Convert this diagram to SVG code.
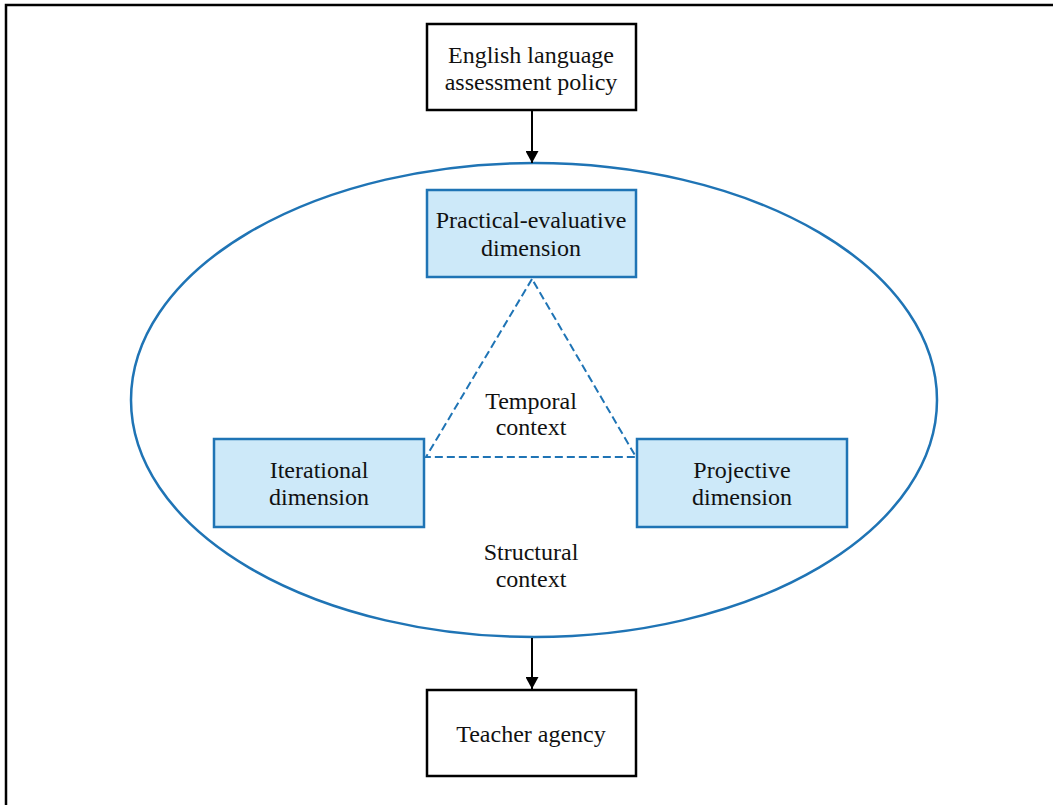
<svg xmlns="http://www.w3.org/2000/svg" width="1053" height="805" viewBox="0 0 1053 805">
<defs>
<marker id="arr" viewBox="0 0 10 10" refX="10" refY="5" markerWidth="12" markerHeight="13" markerUnits="userSpaceOnUse" orient="auto" preserveAspectRatio="none"><path d="M0,0 L10,5 L0,10 z" fill="#000"/></marker>
<style>
text{font-family:"Liberation Serif","Times New Roman",serif;font-size:24px;fill:#111;text-anchor:middle}
.plain{fill:#fff;stroke:#000;stroke-width:2.5}
.dim{fill:#cde9f9;stroke:#1f74b5;stroke-width:2.5}
.conn{stroke:#000;stroke-width:2;fill:none}
.dash{stroke:#1f74b5;stroke-width:2;fill:none;stroke-dasharray:8,4}
</style>
</defs>
<rect x="0" y="0" width="1053" height="805" fill="#fff"/>
<rect x="6" y="5" width="1060" height="820" fill="none" stroke="#000" stroke-width="2.5"/>
<g id="context">
<ellipse cx="534" cy="400" rx="403" ry="237" fill="none" stroke="#1f74b5" stroke-width="2.5"/>
<text x="531" y="409">Temporal</text>
<text x="531" y="435">context</text>
<text x="531" y="560">Structural</text>
<text x="531" y="587">context</text>
</g>
<g id="connectors">
<line class="conn" x1="532" y1="111" x2="532" y2="163" marker-end="url(#arr)"/>
<line class="conn" x1="532" y1="638" x2="532" y2="689" marker-end="url(#arr)"/>
<path class="dash" d="M532,279 L426,457 L636,457 Z"/>
</g>
<g id="policy">
<rect class="plain" x="427" y="24" width="209" height="86"/>
<text x="531" y="63">English language</text>
<text x="531" y="90">assessment policy</text>
</g>
<g id="practical">
<rect class="dim" x="427" y="190" width="209" height="87"/>
<text x="531" y="228">Practical-evaluative</text>
<text x="531" y="256">dimension</text>
</g>
<g id="iterational">
<rect class="dim" x="214" y="439" width="210" height="88"/>
<text x="319" y="478">Iterational</text>
<text x="319" y="505">dimension</text>
</g>
<g id="projective">
<rect class="dim" x="637" y="439" width="210" height="88"/>
<text x="742" y="478">Projective</text>
<text x="742" y="505">dimension</text>
</g>
<g id="agency">
<rect class="plain" x="427" y="690" width="209" height="86"/>
<text x="531" y="742">Teacher agency</text>
</g>
</svg>
